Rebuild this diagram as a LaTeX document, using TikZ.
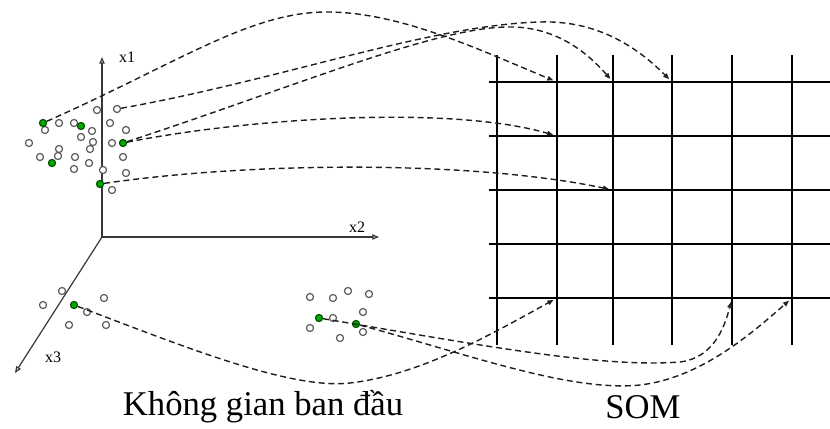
\documentclass[tikz,border=0pt]{standalone}
\usepackage{fontspec}
\setmainfont{Liberation Serif}
\usetikzlibrary{arrows.meta}

\tikzset{
  dot/.style={circle,draw={rgb,255:red,90;green,90;blue,90},line width=0.9pt,fill=white,inner sep=0pt,minimum size=5.3pt},
  win/.style={dot,draw={rgb,255:red,0;green,80;blue,0},fill={rgb,255:red,0;green,170;blue,0}},
  link/.style={draw={rgb,255:red,30;green,30;blue,30},line width=1.05pt,dash pattern={on 4.5pt off 2.8pt},-{Triangle[open,length=4.5pt,width=3.5pt]},shorten >=3pt},
  axis/.style={draw={rgb,255:red,55;green,55;blue,55},line width=0.9pt,-{Triangle[open,length=5pt,width=4pt]}},
  gridline/.style={line width=1.25pt,black}
}

\begin{document}
\begin{tikzpicture}[x=0.75pt,y=0.75pt,yscale=-1,xscale=1]
\useasboundingbox (0,0) rectangle (830,428);

%Axes
\coordinate (o) at (102,237);
\coordinate (e1) at (102,57);
\coordinate (e2) at (379,237);
\coordinate (e3) at (15,373);
\draw[axis] (o) -- (e1);
\draw[axis] (o) -- (e2);
\draw[axis] (o) -- (e3);
% Text Node
\node[font=\fontsize{12}{14}\selectfont] (l1) at (127,57) {x1};
\node[font=\fontsize{12}{14}\selectfont] (l2) at (357,227) {x2};
\node[font=\fontsize{12}{14}\selectfont] (l3) at (53,357) {x3};

%Map grid
\foreach \x [count=\i] in {497,557,613,672,732,792} {
  \draw[gridline] (\x,55) -- (\x,345);
  \foreach \y [count=\j] in {82,136,190,244,298}
    \coordinate (g\i\j) at (\x,\y);
}
\foreach \y in {82,136,190,244,298}
  \draw[gridline] (489,\y) -- (830,\y);

%Input points
\foreach \x/\y [count=\k] in {29/143,40/157,45/130,59/123,59/149,74/123,81/137,75/157,74/169,
    89/163,90/149,93/142,97/110,110/123,126/130,123/157,126/173,103/170,112/190,58/156,
    92/131,112/143,
    62/291,43/305,87/312,104/298,69/325,106/325,
    310/297,333/298,348/291,369/294,363/312,333/318,310/328,363/332,340/338}
  \node[dot] (a\k) at (\x,\y) {};
\node[dot] (u1) at (117,109) {};
\node[win] (w1) at (43,123) {};
\node[win] (w2) at (81,126) {};
\node[win] (w3) at (123,143) {};
\node[win] (w4) at (52,163) {};
\node[win] (w5) at (100,184) {};
\node[win] (w6) at (74,305) {};
\node[win] (w7) at (319,318) {};
\node[win] (w8) at (356,324) {};

%Curve Lines
\draw[link] (w1) .. controls (180,62) and (250,12) .. (327,12) .. controls (400,12) and (480,50) .. (g21);
\draw[link] (u1) .. controls (280,80) and (430,25) .. (540,22) .. controls (600,20) and (640,50) .. (g41);
\draw[link] (w3) .. controls (300,85) and (440,25) .. (513,27) .. controls (555,28) and (585,50) .. (g31);
\draw[link] (w3) .. controls (250,118) and (450,105) .. (g22);
\draw[link] (w5) .. controls (250,162) and (470,160) .. (g33);
\draw[link] (w6) .. controls (180,345) and (290,390) .. (350,383) .. controls (420,375) and (490,335) .. (g25);
\draw[link] (w7) .. controls (480,345) and (600,368) .. (680,362) .. controls (712,358) and (724,330) .. (g55);
\draw[link] (w8) .. controls (470,355) and (570,392) .. (640,385) .. controls (700,378) and (750,335) .. (g65);

% Text Node
\node[font=\fontsize{26}{30}\selectfont] (t1) at (263,407) {Không gian ban đầu};
\node[font=\fontsize{26}{30}\selectfont] (t2) at (643,407) {SOM};

\end{tikzpicture}
\end{document}
